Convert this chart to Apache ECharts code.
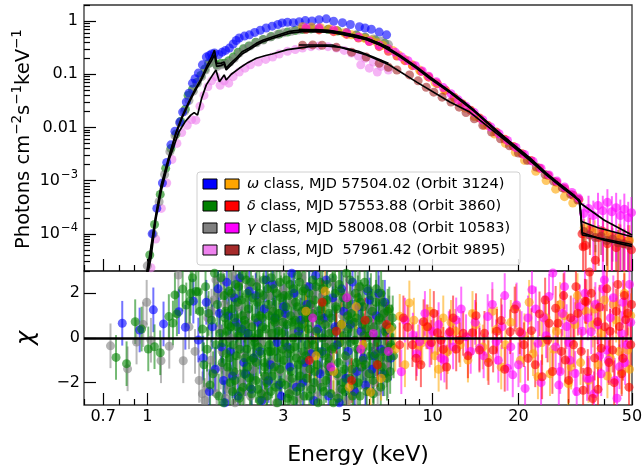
<!DOCTYPE html>
<html><head><meta charset="utf-8">
<script src="https://cdn.jsdelivr.net/npm/echarts@6.0.0/dist/echarts.min.js"></script>
<style>html,body{margin:0;padding:0;background:#fff}#c{width:642px;height:472px}</style>
</head><body><div id="c"></div>
<script>
// ---------------- axes / ticks ----------------
const xMin = 0.6, xMax = 50;
const xTickLabels = ['0.7', '1', '3', '5', '10', '20', '50'];
const xMinorTicks = [0.6, 0.8, 0.9, 2, 4, 6, 7, 8, 9, 30, 40];
const yMin = 2e-5, yMax = 2;
const yTickValues = [1e-4, 1e-3, 1e-2, 0.1, 1];
const yTickLabels = ['10{s|−4}', '10{s|−3}', '0.01', '0.1', '1'];
const yMinorMantissas = [2, 3, 4, 5, 6, 7, 8, 9];
const yMinorDecades = [1e-5, 1e-4, 1e-3, 1e-2, 0.1, 1];
const chiMin = -3, chiMax = 3;
const chiTicks = [-2, 0, 2];
const chiTickLabels = ['−2', '0', '2'];
const CHI_ERR = 1; // residual error bars are +-1 sigma by definition

// ---------------- top panel: SXT spectra [E, flux] ----------------
const topBlue = [[1.04,1.0e-4],[1.08,3.0e-4],[1.13,9e-4],[1.17,2.2e-3],[1.21,4.7e-3],[1.25,8.5e-3],[1.30,0.0126],[1.33,0.0194],[1.37,0.030],[1.40,0.044],[1.44,0.068],[1.47,0.082],[1.51,0.105],[1.56,0.15],[1.61,0.21],[1.65,0.225],[1.68,0.24],[1.72,0.25],[1.78,0.235],[1.83,0.26],[1.88,0.28],[1.94,0.31],[2.00,0.37],[2.05,0.43],[2.10,0.48],[2.19,0.52],[2.28,0.55],[2.38,0.61],[2.49,0.67],[2.61,0.74],[2.74,0.80],[2.87,0.86],[2.97,0.92],[3.10,0.95],[3.25,0.93],[3.41,0.97],[3.58,1.02],[3.78,1.0],[4.0,1.06],[4.24,1.1],[4.5,0.99],[4.83,0.93],[5.15,0.86],[5.54,0.78],[5.8,0.74],[6.1,0.70],[6.5,0.62],[6.9,0.55]];
const topGreen = [[1.02,4e-5],[1.06,1.5e-4],[1.11,5.5e-4],[1.16,1.7e-3],[1.21,4e-3],[1.26,7.5e-3],[1.31,0.013],[1.36,0.022],[1.39,0.04],[1.44,0.052],[1.49,0.07],[1.54,0.095],[1.59,0.125],[1.64,0.16],[1.69,0.2],[1.75,0.15],[1.81,0.16],[1.87,0.16],[1.93,0.18],[2.0,0.21],[2.08,0.26],[2.17,0.3],[2.27,0.34],[2.4,0.4],[2.55,0.45],[2.72,0.51],[2.9,0.57],[3.1,0.62],[3.3,0.66],[3.5,0.69],[3.75,0.71],[4.0,0.71],[4.3,0.69],[4.65,0.65],[5.0,0.6],[5.4,0.54],[5.8,0.49],[6.3,0.44],[6.8,0.38]];
const topGray = [[1.0,2.5e-5],[1.05,1.0e-4],[1.1,4e-4],[1.15,1.3e-3],[1.2,3.5e-3],[1.25,7e-3],[1.3,0.012],[1.35,0.02],[1.4,0.032],[1.45,0.048],[1.5,0.068],[1.55,0.09],[1.6,0.12],[1.65,0.16],[1.7,0.19],[1.76,0.14],[1.82,0.15],[1.88,0.155],[1.95,0.17],[2.02,0.2],[2.1,0.25],[2.2,0.3],[2.3,0.34],[2.42,0.39],[2.55,0.44],[2.7,0.5],[2.85,0.55],[3.0,0.6],[3.2,0.64],[3.4,0.68],[3.6,0.7],[3.8,0.72],[4.0,0.72],[4.3,0.7],[4.6,0.66],[5.0,0.6],[5.4,0.55],[5.8,0.5],[6.2,0.46],[6.6,0.42],[7.0,0.36]];
const topViolet = [[1.03,2.3e-5],[1.07,8e-5],[1.12,3e-4],[1.17,9e-4],[1.22,2.5e-3],[1.27,5e-3],[1.32,8e-3],[1.38,0.011],[1.43,0.014],[1.48,0.0137],[1.53,0.025],[1.58,0.04],[1.63,0.058],[1.68,0.075],[1.74,0.09],[1.8,0.062],[1.86,0.075],[1.93,0.068],[2.0,0.09],[2.1,0.11],[2.2,0.13],[2.3,0.15],[2.45,0.17],[2.6,0.19],[2.75,0.21],[2.9,0.24],[3.1,0.27],[3.3,0.29],[3.5,0.31],[3.75,0.33],[4.0,0.34],[4.3,0.33],[4.6,0.31],[4.9,0.28],[5.2,0.25],[5.5,0.22],[5.8,0.2],[6.2,0.17],[6.6,0.14],[7.0,0.12],[5.6,0.15],[6.0,0.13],[6.4,0.11]];

// ---------------- top panel: LAXPC spectra [E, flux, err] ----------------
const topOrange = [[3.5,0.78],[3.76,0.77],[4.05,0.75],[4.35,0.71],[4.6,0.66],[4.9,0.6],[5.2,0.55],[5.54,0.5],[5.8,0.47],[6.1,0.44],[6.4,0.39],[6.7,0.35],[7.0,0.3],[7.25,0.28],[7.6,0.23],[8.0,0.19],[8.5,0.15],[9.0,0.12],[9.6,0.092],[10.2,0.07],[11.0,0.05],[12.0,0.034],[13.0,0.023],[14.0,0.016],[15.2,0.011],[16.5,0.0075],[18.0,0.005],[19.5,0.0034],[21.0,0.0024],[23.0,0.0015],[25.0,0.001],[27.0,6.9e-4],[29.0,5e-4],[31.0,3.8e-4],[34,1.3e-4,6e-5],[37,1.1e-4,7e-5],[41,1.0e-4,8e-5],[45,8.5e-5,7e-5],[49,7.5e-5,7e-5]];
const topRed = [[3.6,0.7],[4.0,0.68],[4.5,0.63],[5.0,0.56],[5.5,0.48],[6.0,0.41],[6.5,0.33],[7.0,0.27],[7.5,0.22],[8.0,0.18],[8.5,0.145],[9.1,0.113],[9.7,0.088],[10.4,0.066],[11.1,0.05],[11.9,0.037],[12.7,0.028],[13.6,0.021],[14.6,0.015],[15.6,0.011],[16.7,0.0082],[17.9,0.006],[19.2,0.0044],[20.6,0.0032],[22.1,0.0024],[23.7,0.0017],[25.4,0.00125],[27.2,0.00093],[29.1,0.0007],[31.1,0.00053],[32.6,0.00044],[33.4,1.0e-4,5e-5],[33.7,5.7e-5,4e-5],[34.4,6e-5,4e-5],[35.6,1.2e-4,8e-5],[37.2,3.2e-5,3e-5],[38.2,8.5e-5,6e-5],[39.6,1.1e-4,8e-5],[41.0,6.5e-5,6e-5],[42.5,9e-5,7e-5],[44.0,5.5e-5,5e-5],[45.5,8e-5,7e-5],[47.0,6.5e-5,6e-5],[48.5,7.5e-5,7e-5],[49.8,5e-5,5e-5]];
const topMagenta = [[3.6,0.75],[4.0,0.74],[4.5,0.68],[5.0,0.6],[5.5,0.5],[6.0,0.42],[6.5,0.35],[7.0,0.30],[7.4,0.26],[7.8,0.21],[8.2,0.18],[8.7,0.145],[9.2,0.115],[9.7,0.092],[10.3,0.072],[10.9,0.056],[11.6,0.043],[12.3,0.033],[13.1,0.025],[14.0,0.019],[15.0,0.0138],[16.0,0.0102],[17.1,0.0076],[18.3,0.0057],[19.6,0.0042],[21.0,0.0031],[22.5,0.0023],[24.0,0.0017],[25.6,0.00128],[27.3,0.00098],[29.0,0.00076],[30.8,0.0006],[32.5,0.00047],[33.8,2.4e-4,1.4e-4],[35.2,3.0e-4,2.2e-4],[36.6,2.2e-4,2.0e-4],[38.0,3.4e-4,2.5e-4],[39.5,2.7e-4,2.5e-4],[41.0,3.9e-4,3.0e-4],[42.5,2.6e-4,2.5e-4],[44.0,3.1e-4,2.8e-4],[45.5,2.2e-4,2.2e-4],[47.0,2.9e-4,2.8e-4],[48.5,2.0e-4,2.0e-4],[49.8,2.5e-4,2.4e-4]];
const topBrown = [[3.5,0.35],[3.8,0.355],[4.1,0.35],[4.6,0.32],[5.2,0.26],[5.85,0.21],[6.5,0.16],[7.0,0.135],[7.5,0.12],[8.3,0.097],[8.9,0.075],[9.5,0.057],[10.1,0.046],[10.8,0.037],[11.6,0.03],[12.4,0.024],[13.1,0.019],[14.0,0.0145],[15.0,0.011],[16.1,0.0082],[17.3,0.0061],[18.6,0.0045],[20.0,0.0033],[21.5,0.0024],[23.1,0.0018],[24.8,0.0013],[26.6,0.00097],[28.5,0.00073],[30.5,0.00055],[32.3,0.00043],[33.9,1.1e-4,4e-5],[35.5,9.5e-5,4e-5],[37.2,8.5e-5,4e-5],[39.0,9e-5,5e-5],[40.8,7.5e-5,5e-5],[42.7,8e-5,5e-5],[44.6,6.8e-5,5e-5],[46.6,6.5e-5,5e-5],[48.7,6e-5,5e-5]];

// ---------------- top panel: model curves [E, flux] ----------------
const modelSxtOmega = [[0.99,1.6e-5],[1.02,4e-5],[1.07,2.2e-4],[1.12,8.5e-4],[1.19,2.8e-3],[1.26,8e-3],[1.33,0.017],[1.40,0.031],[1.47,0.052],[1.54,0.08],[1.62,0.145],[1.68,0.21],[1.72,0.285],[1.75,0.16],[1.81,0.16],[1.86,0.17],[1.89,0.13],[1.97,0.165],[2.05,0.2],[2.15,0.265],[2.28,0.31],[2.41,0.38],[2.55,0.44],[2.74,0.5],[2.95,0.57],[3.15,0.64],[3.5,0.68],[3.9,0.69],[4.3,0.67],[4.8,0.61],[5.4,0.54],[5.9,0.47],[6.5,0.38],[7.1,0.31]];
const modelSxtGamma = [[0.99,1.4e-5],[1.02,3.6e-5],[1.07,2.0e-4],[1.12,7.8e-4],[1.19,2.6e-3],[1.26,7.5e-3],[1.33,0.016],[1.40,0.029],[1.47,0.048],[1.54,0.074],[1.62,0.13],[1.68,0.18],[1.72,0.23],[1.75,0.14],[1.81,0.145],[1.86,0.155],[1.89,0.12],[1.97,0.15],[2.05,0.185],[2.15,0.24],[2.28,0.29],[2.41,0.35],[2.55,0.41],[2.74,0.47],[2.95,0.53],[3.15,0.59],[3.5,0.63],[3.9,0.64],[4.3,0.62],[4.8,0.57],[5.4,0.5],[5.9,0.44],[6.5,0.36],[7.1,0.29]];
const modelSxtKappa = [[0.99,1.2e-5],[1.03,3.5e-5],[1.07,1.8e-4],[1.12,6.5e-4],[1.19,2.4e-3],[1.29,8.2e-3],[1.36,0.013],[1.42,0.017],[1.46,0.019],[1.50,0.017],[1.55,0.035],[1.61,0.063],[1.68,0.09],[1.74,0.12],[1.79,0.072],[1.86,0.097],[1.89,0.078],[1.97,0.1],[2.1,0.129],[2.25,0.165],[2.41,0.2],[2.6,0.225],[2.74,0.24],[3.1,0.29],[3.7,0.33],[4.2,0.34],[4.8,0.32],[5.5,0.27],[6.2,0.21],[7.0,0.16]];
const modelLxGamma = [[3.4,0.7],[4.45,0.65],[5.86,0.48],[6.5,0.38],[7.06,0.3],[7.66,0.23],[8.76,0.14],[9.77,0.09],[11.5,0.048],[12.8,0.031],[14.0,0.021],[16.7,0.009],[19.0,0.005],[21.9,0.0027],[25.0,0.0014],[27.0,0.001],[29.0,7.4e-4],[31.5,5.2e-4],[32.9,3.8e-4],[40.0,1.8e-4],[50.0,9.5e-5]];
const modelLxOmega = [[3.4,0.68],[4.45,0.63],[5.86,0.46],[6.5,0.37],[7.06,0.29],[7.66,0.22],[8.76,0.135],[9.77,0.086],[11.5,0.046],[12.8,0.03],[14.0,0.0205],[16.7,0.0088],[19.0,0.0049],[21.9,0.0026],[25.0,0.00135],[27.0,9.7e-4],[29.0,7.2e-4],[31.5,5.0e-4],[32.6,4.4e-4],[33.3,1.7e-4],[38.0,1.3e-4],[50.0,8.8e-5]];
const modelLxDelta = [[3.4,0.66],[4.45,0.61],[5.86,0.45],[6.5,0.36],[7.06,0.28],[7.66,0.215],[8.76,0.13],[9.77,0.083],[11.5,0.045],[12.8,0.029],[14.0,0.02],[16.7,0.0085],[19.0,0.0047],[21.9,0.0025],[25.0,0.0013],[27.0,9.5e-4],[29.0,7.0e-4],[31.5,4.9e-4],[32.8,4.2e-4],[33.5,9.5e-5],[40.0,8e-5],[50.0,6.3e-5]];
const modelLxKappa = [[3.4,0.354],[4.45,0.354],[5.86,0.23],[7.06,0.149],[8.8,0.071],[11.5,0.03],[13.5,0.0194],[16.7,0.0078],[19.0,0.0045],[21.9,0.0024],[25.0,0.0013],[27.0,9.2e-4],[29.0,6.8e-4],[31.5,4.9e-4],[32.8,4.1e-4],[33.4,1.05e-4],[40.0,7.6e-5],[50.0,5.8e-5]];

// ---------------- bottom panel: residuals [E, chi] ----------------
const resGray = [[0.743,-0.35],[0.853,-1.38],[0.917,-0.18],[0.968,0.6],[0.995,1.6],[1.03,-0.1],[1.117,-1.02],[1.194,-0.37],[1.285,2.82],[1.337,-1.02],[1.40,0.5],[1.47,-0.6],[1.52,-1.9],[1.56,-2.5],[1.59,-2.8],[1.63,0.9],[1.67,-1.0],[1.71,1.7],[1.74,2.6],[1.75,-2.5],[1.79,0.4],[1.84,2.6],[1.90,-1.6],[1.96,0.0],[2.03,-2.9],[2.10,1.4],[2.17,-0.8],[2.26,2.3],[2.35,-1.4],[2.45,0.8],[2.55,-2.5],[2.66,1.9],[2.77,-1.1],[2.89,0.6],[3.01,2.2],[3.14,-1.8],[3.27,0.2],[3.41,-2.7],[3.55,1.3],[3.70,-0.6],[3.86,2.0],[4.02,-2.0],[4.19,0.7],[4.37,-1.1],[4.55,1.6],[4.74,-2.3],[4.94,0.5],[5.15,1.9],[5.37,-1.5],[5.60,0.2],[5.84,-2.2],[6.09,1.3],[6.35,-0.8],[6.62,0.6],[6.90,-1.2],
  [1.81,-1.3],[1.87,1.5],[1.93,-2.3],[2.00,2.8],[2.07,-0.4],[2.14,-2.0],[2.21,1.0],[2.30,-2.6],[2.40,2.5],[2.50,-0.2],[2.60,-1.8],[2.71,1.3],[2.83,-2.9],[2.95,2.0],[3.07,-0.5],[3.20,1.6],[3.34,-2.1],[3.48,2.7],[3.62,-1.4],[3.78,0.9],[3.94,-2.6],[4.10,1.8],[4.28,-0.2],[4.46,2.5],[4.65,-1.7],[4.84,1.0],[5.04,-2.8],[5.26,0.7],[5.48,2.2],[5.72,-1.0],[5.96,0.9],[6.22,-2.0],[6.49,1.8],[6.76,-0.5],[7.05,0.9],
  [1.62,-2.2],[1.68,1.2],[1.72,-1.5],[1.77,2.0],[1.83,-0.6],[1.88,-2.7],[1.98,1.9],[2.05,-1.6],[2.12,2.6],[2.19,-2.4],[2.28,0.6],[2.38,-1.0],[2.48,1.8],[2.58,-2.7],[2.69,0.2],[2.80,2.4],[2.92,-1.5],[3.04,0.9],[3.17,-2.4],[3.31,1.1],[3.45,-0.8],[3.59,2.3],[3.75,-2.2],[3.91,0.4],[4.07,2.2],[4.24,-1.4],[4.42,0.3],[4.60,-2.6],[4.79,2.0],[4.99,-0.9],[5.20,1.3],[5.42,-2.5],[5.66,1.5],[5.90,-1.6],[6.15,0.4],[6.42,-2.4],[6.70,1.1],[6.98,-1.7]];
const resBlue = [[0.817,0.66],[0.94,0.36],[1.05,1.26],[1.14,0.63],[1.29,1.18],[1.36,0.48],[1.45,1.65],[1.51,-0.09],[1.57,-0.9],[1.61,1.6],[1.65,-2.4],[1.69,0.5],[1.73,-1.4],[1.77,2.2],[1.82,-0.4],[1.87,-2.9],[1.93,1.0],[1.99,-1.7],[2.05,0.7],[2.11,2.7],[2.18,-1.1],[2.25,0.2],[2.32,-2.3],[2.40,1.9],[2.48,-0.6],[2.57,1.3],[2.66,-1.9],[2.75,2.4],[2.85,-0.2],[2.95,-2.6],[3.05,1.1],[3.16,-1.3],[3.27,2.0],[3.39,0.3],[3.51,-2.0],[3.63,1.5],[3.76,-0.7],[3.89,2.8],[4.03,-1.6],[4.17,0.9],[4.32,-2.6],[4.47,1.8],[4.63,-0.3],[4.80,2.2],[4.97,-1.8],[5.15,0.6],[5.33,-2.4],[5.52,1.4],[5.72,-0.9],[5.92,2.1],[6.13,-1.4],[6.35,1.0],[6.58,-0.5],[6.80,1.6],
  [1.79,1.1],[1.85,-1.9],[1.90,2.5],[1.96,-0.6],[2.02,1.8],[2.08,-2.6],[2.14,0.4],[2.21,-1.6],[2.28,2.1],[2.36,-0.9],[2.44,0.7],[2.52,-2.8],[2.61,2.6],[2.70,-1.2],[2.80,0.9],[2.90,-2.1],[3.00,1.4],[3.10,-0.4],[3.21,2.9],[3.33,-2.2],[3.45,0.8],[3.57,-1.1],[3.70,2.3],[3.83,-2.8],[3.96,0.4],[4.10,-0.6],[4.24,2.6],[4.39,-1.4],[4.55,0.5],[4.71,-2.9],[4.88,1.2],[5.06,-0.6],[5.24,2.5],[5.43,-1.5],[5.62,0.3],[5.82,-2.1],[6.02,1.7],[6.24,-0.8],[6.46,2.0],[6.70,-1.6],[6.95,0.4],[7.15,-0.9]];
const resGreen = [[0.777,-0.87],[0.846,-1.15],[0.907,0.73],[0.955,0.4],[1.008,-0.49],[1.06,-0.39],[1.11,-0.66],[1.19,0.96],[1.23,0.67],[1.25,1.93],[1.27,1.08],[1.33,2.19],[1.37,1.48],[1.41,1.65],[1.42,2.0],[1.44,2.7],[1.48,2.08],[1.51,2.07],[1.53,1.2],[1.56,0.4],[1.58,-1.2],[1.60,2.3],[1.62,-0.5],[1.64,1.1],[1.66,-2.1],[1.68,0.8],[1.70,-1.6],[1.72,2.9],[1.74,-0.3],[1.76,1.5],[1.78,-2.6],[1.80,0.2],[1.83,-1.1],[1.86,1.9],[1.87,0.9],[1.89,-0.7],[1.92,0.6],[1.95,-2.0],[1.98,1.3],[2.0,-0.3],[2.01,-1.5],[2.04,2.4],[2.08,0.1],[2.12,-2.4],[2.14,1.7],[2.16,1.0],[2.20,-0.9],[2.24,2.0],[2.28,-1.8],[2.30,-1.0],[2.33,0.5],[2.38,-0.2],[2.43,1.6],[2.46,0.2],[2.48,-2.8],[2.53,0.9],[2.58,-1.3],[2.62,-2.0],[2.64,2.2],[2.70,-0.6],[2.76,1.2],[2.80,0.7],[2.82,-2.2],[2.88,0.3],[2.94,1.8],[2.98,-0.5],[3.00,-1.0],[3.07,2.6],[3.14,-2.5],[3.18,1.0],[3.21,0.7],[3.28,-0.4],[3.35,1.4],[3.38,-1.2],[3.43,-1.7],[3.51,2.1],[3.59,-0.8],[3.60,0.9],[3.67,0.4],[3.76,-2.3],[3.82,-0.3],[3.85,1.7],[3.94,-1.2],[4.03,2.5],[4.06,1.3],[4.13,0.0],[4.23,-1.9],[4.30,-0.9],[4.33,1.1],[4.44,-0.5],[4.55,2.0],[4.57,0.3],[4.66,-2.7],[4.78,0.6],[4.85,-2.0],[4.90,-1.4],[5.02,1.5],[5.10,0.8],[5.15,-0.2],[5.28,-2.1],[5.40,-1.1],[5.41,0.9],[5.55,2.3],[5.69,-1.0],[5.70,1.4],[5.84,0.4],[5.99,-1.6],[6.00,0.1],[6.15,1.2],[6.31,-0.7],[6.40,-0.2],[6.48,0.8],[6.65,-1.3],[6.75,1.1],[6.82,0.3],[7.00,-0.9],[7.10,-1.5],[7.20,0.5],
  [1.81,2.7],[1.84,-0.2],[1.85,-2.9],[1.88,1.2],[1.91,-1.3],[1.93,2.1],[1.96,0.5],[1.99,-2.4],[2.02,0.9],[2.05,-0.8],[2.07,1.6],[2.10,-2.7],[2.13,0.3],[2.15,2.8],[2.18,-1.6],[2.21,0.6],[2.23,-0.5],[2.26,1.3],[2.29,-2.2],[2.31,2.5],[2.35,-0.9],[2.37,0.0],[2.40,-1.9],[2.42,2.3],[2.45,-0.4],[2.49,1.0],[2.51,-2.5],[2.55,1.9],[2.57,-1.1],[2.60,0.4],[2.63,-2.6],[2.66,1.5],[2.68,-0.3],[2.72,2.7],[2.74,-1.7],[2.78,0.8],[2.81,-0.6],[2.84,2.0],[2.86,-2.9],[2.90,1.1],[2.92,-1.4],[2.96,0.2],[3.02,1.9],[3.04,-2.1],[3.09,0.6],[3.11,-0.7],[3.16,2.4],[3.19,-1.5],[3.24,0.0],[3.26,-2.8],[3.31,1.6],[3.33,-0.9],[3.37,2.8],[3.41,0.5],[3.45,-2.2],[3.48,1.2],[3.53,-0.6],[3.56,2.2],[3.62,-1.8],[3.65,0.9],[3.70,-2.6],[3.73,1.5],[3.78,-0.1],[3.80,2.6],[3.88,-1.5],[3.91,0.3],[3.97,-2.9],[4.00,1.0],[4.09,-0.7],[4.11,2.2],[4.16,-2.4],[4.20,0.6],[4.26,1.7],[4.28,-1.2],[4.36,0.2],[4.40,-2.5],[4.47,2.7],[4.50,-0.4],[4.60,1.3],[4.63,-1.6],[4.70,2.4],[4.74,-0.2],[4.82,-2.3],[4.87,1.8],[4.95,-0.8],[4.98,2.9],[5.06,0.4],[5.12,-1.8],[5.19,1.1],[5.24,-2.6],[5.32,0.7],[5.36,2.0],[5.45,-0.5],[5.49,-2.0],[5.59,1.6],[5.63,-1.3],[5.74,0.1],[5.78,2.5],[5.88,-2.4],[5.93,0.8],[6.03,-0.4],[6.08,1.9],[6.19,-1.9],[6.24,0.5],[6.35,2.2],[6.44,-1.2],[6.52,0.9],[6.58,-2.2],[6.69,1.6],[6.72,-0.6],[6.86,0.5],[6.92,-1.8],[7.05,1.3],[7.14,-0.3],[7.25,0.9],[7.30,-0.8],
  [1.90,0.3],[1.94,-0.9],[1.97,2.0],[2.03,-1.9],[2.06,0.5],[2.09,2.3],[2.11,-0.5],[2.17,-2.2],[2.19,0.8],[2.22,2.6],[2.25,-1.3],[2.27,0.2],[2.32,-2.5],[2.34,1.8],[2.39,0.9],[2.41,-1.1],[2.44,-2.3],[2.47,2.0],[2.50,-0.7],[2.54,0.5],[2.56,2.6],[2.59,-1.7],[2.65,-0.6],[2.67,1.0],[2.71,-2.4],[2.73,0.2],[2.77,2.2],[2.79,-1.3],[2.83,0.9],[2.87,-0.9],[2.91,2.5],[2.95,-2.0],[2.99,0.7],[3.03,-0.2],[3.06,1.4],[3.10,-2.7],[3.13,1.9],[3.17,-0.5],[3.22,-1.8],[3.25,2.2],[3.30,0.8],[3.34,-2.4],[3.39,0.1],[3.42,2.5],[3.47,-1.0],[3.50,0.6],[3.55,-2.6],[3.58,1.3],[3.64,-0.3],[3.69,2.0],[3.72,-1.4],[3.79,1.1],[3.84,-2.0],[3.90,2.3],[3.96,-0.6],[4.02,0.8],[4.08,-2.2],[4.15,1.6],[4.21,-0.4],[4.27,2.4],[4.35,-1.5],[4.42,0.9],[4.49,-2.9],[4.58,1.4],[4.68,-1.1],[4.76,2.1],[4.86,0.1],[4.93,-2.4],[5.04,1.0],[5.14,2.6],[5.22,-1.4],[5.34,-0.1],[5.47,1.8],[5.57,-2.6],[5.67,0.6],[5.80,-1.2],[5.91,2.2],[6.05,-0.8],[6.20,-2.5],[6.33,1.6],[6.46,-0.9],[6.60,2.0],[6.78,-1.6],[6.96,1.2],[7.12,-0.4]];
const resOrange = [[3.6,1.2],[3.9,-0.8],[4.2,2.1],[4.5,-1.5],[4.8,0.6],[5.1,-2.2],[5.4,1.4],[5.7,-0.3],[6.06,-2.43],[6.6,-1.8],[7.1,0.4],[7.67,0.97],[8.29,1.57],[8.9,-0.4],[9.5,0.5],[10.2,-0.8],[10.9,0.9],[11.3,-0.61],[12.0,0.3],[13.3,-0.99],[14.2,0.6],[15.6,-0.91],[16.8,0.4],[18.0,-0.3],[19.6,1.41],[21.0,0.1],[22.5,-0.7],[23.4,-1.74],[25.0,0.9],[26.5,-0.5],[28.0,1.5],[29.9,-2.04],[31.5,0.6],[33.0,-1.1],[34.5,1.2],[36.4,0.58],[38.0,-1.2],[40.0,1.7],[42.0,-0.9],[44.0,0.8],[46.0,-1.5],[48.3,-0.54],[49.5,1.0],
  [7.4,-0.5],[8.0,-1.2],[8.6,0.8],[9.2,-0.2],[9.8,1.2],[10.5,-1.4],[11.6,0.7],[12.5,-0.3],[13.8,1.1],[15.0,-0.4],[16.2,1.2],[17.4,-1.3],[18.8,0.7],[20.3,-1.0],[21.8,1.6],[24.2,-0.2],[25.8,-1.6],[27.2,0.3],[29.0,1.0],[30.6,-1.3],[32.2,1.9],[35.2,-1.9],[37.0,1.3],[39.0,0.2],[41.0,-1.7],[43.0,1.5],[45.0,-0.6],[47.0,2.0],[49.0,-1.4]];
const resMagenta = [[3.8,0.9],[4.4,-1.3],[5.0,1.8],[5.6,-0.5],[6.2,0.2],[7.0,-0.6],[7.77,-1.51],[8.53,0.13],[9.0,-0.17],[9.77,-0.31],[10.5,0.6],[11.0,-0.99],[12.1,0.81],[13.1,0.06],[14.6,-0.46],[15.6,0.96],[16.7,-0.17],[17.5,0.5],[18.3,-1.36],[19.1,-1.65],[19.7,1.48],[20.5,0.2],[21.1,-2.26],[22.3,2.16],[23.4,-0.24],[24.5,0.9],[25.6,1.86],[26.4,2.91],[27.7,-2.11],[28.5,1.1],[29.5,0.51],[30.3,-1.0],[31.2,0.81],[31.6,-1.59],[32.8,1.4],[33.5,0.3],[34.8,-1.81],[35.5,-1.8],[36.0,0.28],[37.2,1.5],[38.5,-0.8],[39.5,2.2],[40.7,-0.54],[42.0,0.9],[43.5,-1.9],[45.2,-1.29],[46.5,1.6],[48.0,-0.3],[49.5,0.7],
  [8.0,0.8],[8.8,-0.7],[9.4,1.1],[10.0,0.3],[10.7,-0.9],[11.4,0.2],[11.8,-0.4],[12.6,1.3],[13.6,-0.6],[14.1,0.7],[15.1,-0.8],[16.2,1.5],[17.0,-1.0],[17.9,1.9],[18.8,-0.4],[20.0,-1.2],[21.6,0.9],[23.0,1.3],[24.0,-2.0],[25.0,0.1],[27.0,-0.4],[28.0,-1.5],[29.0,2.3],[30.0,-0.2],[32.0,-2.4],[34.2,2.0],[35.0,0.9],[36.8,-2.5],[38.0,0.6],[39.0,-1.6],[40.0,2.6],[41.3,-1.0],[43.0,1.8],[44.3,-2.7],[46.0,0.2],[47.3,-1.1],[49.0,2.4]];
const resRed = [[3.7,-1.0],[4.1,1.6],[4.6,0.3],[5.2,-1.9],[5.8,0.8],[6.4,-1.2],[6.9,0.6],[7.67,-0.31],[8.18,0.48],[8.76,-0.91],[9.3,0.73],[9.9,-0.2],[10.4,0.24],[10.9,-0.51],[11.5,0.28],[12.1,-0.49],[12.8,0.21],[13.8,0.24],[14.6,-0.54],[15.2,0.21],[16.3,-0.54],[17.4,0.78],[18.7,0.28],[20.2,0.28],[21.6,-0.91],[22.2,0.33],[23.7,1.08],[24.2,-1.74],[25.3,-0.09],[25.6,0.66],[27.0,1.33],[27.5,0.66],[28.3,-0.6],[29.2,-0.99],[30.5,0.9],[31.2,-0.3],[32.3,1.11],[33.7,-2.34],[34.2,1.65],[34.6,1.63],[35.5,2.95],[36.4,-2.71],[37.0,-0.9],[37.9,0.73],[38.5,1.38],[39.0,-0.46],[40.2,0.5],[41.5,-1.1],[42.8,-0.54],[44.0,1.2],[45.2,0.51],[46.5,-0.91],[47.5,0.82],[48.3,1.11],[49.5,-0.3],
  [7.9,0.9],[8.5,-0.3],[9.1,-1.2],[9.6,0.5],[10.1,1.1],[10.7,-0.1],[11.2,-1.3],[11.8,0.9],[12.4,-0.1],[13.3,-0.8],[14.2,1.0],[15.7,-1.1],[16.8,0.3],[17.9,-1.4],[19.4,1.3],[20.9,-0.3],[22.9,-1.2],[24.8,1.7],[26.3,-1.5],[28.8,1.9],[30.0,-1.9],[31.8,2.3],[33.2,-0.6],[35.0,-1.5],[36.0,2.0],[38.0,-2.3],[40.8,2.2],[41.9,0.3],[43.3,-2.0],[44.6,2.4],[46.0,-1.6],[47.0,1.9],[48.8,-2.2],[49.8,1.5]];

// ---------------- legend text ----------------
const legendRows = [
  ['#0000ff', '#ffa500', '{i|ω} class, MJD 57504.02 (Orbit 3124)'],
  ['#008000', '#ff0000', '{i|δ} class, MJD 57553.88 (Orbit 3860)'],
  ['#808080', '#ff00ff', '{i|γ} class, MJD 58008.08 (Orbit 10583)'],
  ['#ee82ee', '#a52a2a', '{i|κ} class, MJD  57961.42 (Orbit 9895)']
];

// =====================================================
const FONT = 'DejaVu Sans';
const lg = Math.log10;
const chart = echarts.init(document.getElementById('c'), null, {renderer: 'canvas', width: 642, height: 472});

const xMajorVals = xTickLabels.map(parseFloat);
const yMinorVals = [];
yMinorDecades.forEach(d => yMinorMantissas.forEach(m => { const v = m * d; if (v >= yMin && v <= yMax) yMinorVals.push(v); }));

function nearestLabel(v, vals, labels) {
  let best = 0;
  for (let i = 1; i < vals.length; i++) if (Math.abs(vals[i] - v) < Math.abs(vals[best] - v)) best = i;
  return labels[best];
}
const tickLine = {color: '#000', width: 1.2};

function dataAxisX(grid) {
  return {type: 'log', logBase: 10, gridIndex: grid, min: xMin, max: xMax, show: false,
    axisLine: {show: false, onZero: false}, splitLine: {show: false}};
}
function overlayX(grid, vals, len, withLabels) {
  const lv = vals.map(lg);
  return {type: 'value', gridIndex: grid, min: lg(xMin), max: lg(xMax), position: 'bottom',
    axisLine: {show: false, onZero: false}, splitLine: {show: false},
    axisTick: {show: true, inside: true, length: len, customValues: lv, lineStyle: tickLine},
    axisLabel: withLabels ? {show: true, customValues: lv, margin: 4, fontSize: 16, fontFamily: FONT, color: '#000',
      formatter: v => nearestLabel(v, lv, xTickLabels)} : {show: false}};
}

const option = {
  animation: false,
  backgroundColor: '#fff',
  grid: [
    {left: 84, top: 5, width: 548, height: 266, show: true, borderColor: '#333', borderWidth: 1.3, backgroundColor: 'transparent', containLabel: false, outerBoundsMode: 'none'},
    {left: 84, top: 271, width: 548, height: 134, show: true, borderColor: '#333', borderWidth: 1.3, backgroundColor: 'transparent', containLabel: false, outerBoundsMode: 'none'}
  ],
  xAxis: [
    dataAxisX(0),
    overlayX(0, xMajorVals, 12, false),
    overlayX(0, xMinorTicks, 6, false),
    dataAxisX(1),
    overlayX(1, xMajorVals, 12, true),
    overlayX(1, xMinorTicks, 6, false)
  ],
  yAxis: [
    {type: 'log', logBase: 10, gridIndex: 0, min: yMin, max: yMax, show: false, axisLine: {show: false, onZero: false}, splitLine: {show: false}},
    {type: 'value', gridIndex: 0, min: lg(yMin), max: lg(yMax), position: 'left',
      axisLine: {show: false, onZero: false}, splitLine: {show: false},
      axisTick: {show: true, inside: true, length: 12, customValues: yTickValues.map(lg), lineStyle: tickLine},
      axisLabel: {show: true, customValues: yTickValues.map(lg), margin: 6, fontSize: 16, fontFamily: FONT, color: '#000',
        formatter: v => nearestLabel(v, yTickValues.map(lg), yTickLabels),
        rich: {s: {fontSize: 11.5, fontFamily: FONT, color: '#000', padding: [0, 0, 11, 1]}}}},
    {type: 'value', gridIndex: 0, min: lg(yMin), max: lg(yMax), position: 'left',
      axisLine: {show: false, onZero: false}, splitLine: {show: false},
      axisTick: {show: true, inside: true, length: 6, customValues: yMinorVals.map(lg), lineStyle: tickLine},
      axisLabel: {show: false}},
    {type: 'value', gridIndex: 1, min: chiMin, max: chiMax, position: 'left',
      axisLine: {show: false, onZero: false}, splitLine: {show: false},
      axisTick: {show: true, inside: true, length: 12, customValues: chiTicks, lineStyle: tickLine},
      axisLabel: {show: true, customValues: chiTicks, margin: 4, fontSize: 16, fontFamily: FONT, color: '#000',
        formatter: v => nearestLabel(v, chiTicks, chiTickLabels)}}
  ],
  series: [],
  graphic: []
};

function points(data, color, xi, yi) {
  return {type: 'scatter', xAxisIndex: xi, yAxisIndex: yi, data: data.map(d => [d[0], d[1]]),
    symbol: 'circle', symbolSize: 9, itemStyle: {color: color, opacity: 0.6}, silent: true, clip: true};
}
function topBars(data, color) {
  return {type: 'custom', xAxisIndex: 0, yAxisIndex: 0, silent: true, clip: true,
    data: data.filter(d => d.length > 2),
    renderItem: (params, api) => {
      const e = api.value(0), f = api.value(1), er = api.value(2);
      const lo = Math.max(f - er, yMin), hi = Math.min(f + er, yMax);
      const p1 = api.coord([e, lo]), p2 = api.coord([e, hi]);
      return {type: 'line', shape: {x1: p1[0], y1: p1[1], x2: p2[0], y2: p2[1]},
        style: {stroke: color, lineWidth: 2, opacity: 0.6}};
    }};
}
function resBars(data, color) {
  return {type: 'custom', xAxisIndex: 3, yAxisIndex: 3, silent: true, clip: true, data: data,
    renderItem: (params, api) => {
      const e = api.value(0), c = api.value(1);
      const p1 = api.coord([e, Math.max(c - CHI_ERR, chiMin)]), p2 = api.coord([e, Math.min(c + CHI_ERR, chiMax)]);
      return {type: 'line', shape: {x1: p1[0], y1: p1[1], x2: p2[0], y2: p2[1]},
        style: {stroke: color, lineWidth: 2, opacity: 0.55}};
    }};
}
function model(data) {
  return {type: 'line', xAxisIndex: 0, yAxisIndex: 0, data: data, showSymbol: false, symbol: 'none',
    lineStyle: {color: '#000', width: 1.7}, silent: true, z: 5, clip: true};
}

// top panel
[[topViolet, '#ee82ee'], [topGreen, '#008000'], [topGray, '#808080'], [topBlue, '#0000ff']].forEach(([d, c]) => option.series.push(points(d, c, 0, 0)));
[[topRed, '#ff0000'], [topOrange, '#ffa500'], [topBrown, '#a52a2a'], [topMagenta, '#ff00ff']].forEach(([d, c]) => {
  option.series.push(topBars(d, c));
  option.series.push(points(d, c, 0, 0));
});
[modelSxtOmega, modelSxtGamma, modelSxtKappa, modelLxGamma, modelLxOmega, modelLxDelta, modelLxKappa].forEach(m => option.series.push(model(m)));

// bottom panel
[[resGray, '#808080'], [resBlue, '#0000ff'], [resGreen, '#008000'], [resOrange, '#ffa500'], [resMagenta, '#ff00ff'], [resRed, '#ff0000']].forEach(([d, c]) => {
  option.series.push(resBars(d, c));
  option.series.push(points(d, c, 3, 3));
});
option.series[option.series.length - 1].markLine = {
  silent: true, symbol: 'none', label: {show: false}, z: 10,
  lineStyle: {color: '#000', width: 2.5, type: 'solid'},
  data: [{yAxis: 0}]
};

// titles
option.graphic.push({type: 'text', x: 358, y: 455, z: 50, style: {text: 'Energy (keV)', font: '22px "DejaVu Sans"', fill: '#000', align: 'center', verticalAlign: 'middle'}});
option.graphic.push({type: 'text', x: 24, y: 139, rotation: Math.PI / 2, z: 50,
  style: {text: 'Photons cm{s|−2}s{s|−1}keV{s|−1}', font: '19.5px "DejaVu Sans"', fill: '#000', align: 'center', verticalAlign: 'middle',
    rich: {s: {font: '13.5px "DejaVu Sans"', fill: '#000', padding: [0, 0, 14, 0]}}}});
option.graphic.push({type: 'text', x: 27, y: 338, rotation: Math.PI / 2, z: 50,
  style: {text: 'χ', font: 'italic 24px "DejaVu Sans"', fill: '#000', align: 'center', verticalAlign: 'middle'}});

// legend
const lgX = 197, lgY = 172, lgW = 323, lgH = 93, rowY0 = 184, rowDy = 22;
option.graphic.push({type: 'rect', z: 60, shape: {x: lgX, y: lgY, width: lgW, height: lgH, r: 3},
  style: {fill: 'rgba(255,255,255,0.85)', stroke: '#d0d0d0', lineWidth: 1}});
legendRows.forEach((r, i) => {
  const y = rowY0 + i * rowDy;
  option.graphic.push({type: 'rect', z: 61, shape: {x: 203, y: y - 5, width: 14, height: 10}, style: {fill: r[0], stroke: '#000', lineWidth: 1}});
  option.graphic.push({type: 'rect', z: 61, shape: {x: 225, y: y - 5, width: 14, height: 10}, style: {fill: r[1], stroke: '#000', lineWidth: 1}});
  option.graphic.push({type: 'text', z: 61, x: 247, y: y, style: {text: r[2], font: '14.5px "DejaVu Sans"', fill: '#000', align: 'left', verticalAlign: 'middle',
    rich: {i: {font: 'italic 14.5px "DejaVu Sans"', fill: '#000'}}}});
});

chart.setOption(option);
</script>
</body></html>
